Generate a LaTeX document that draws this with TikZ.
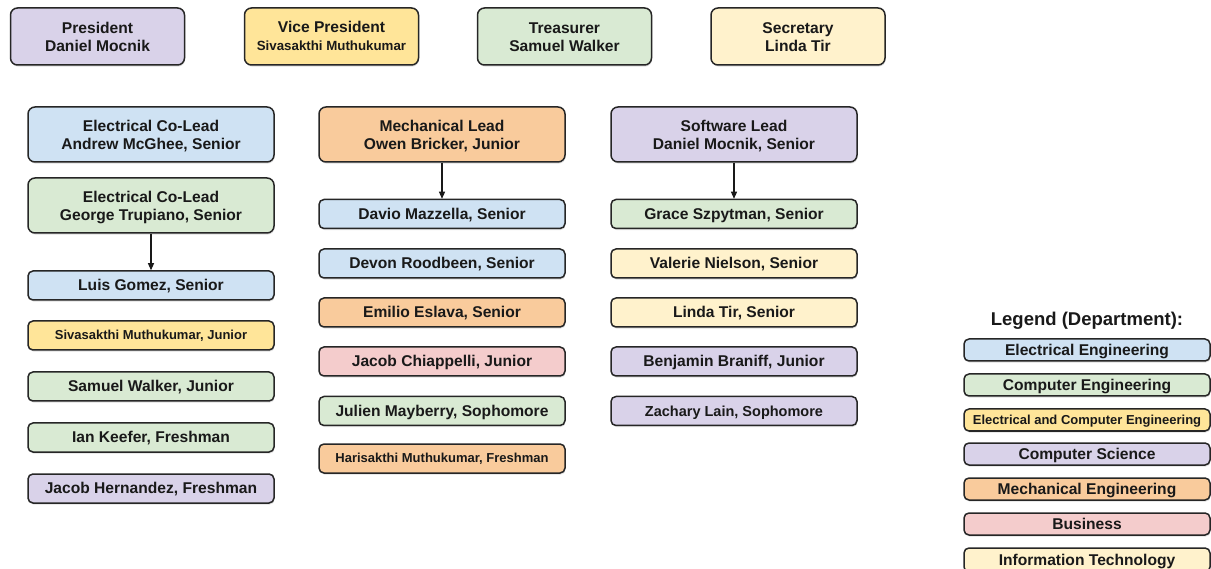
\documentclass[tikz,border=0pt]{standalone}
\usepackage{fontspec}
\setmainfont{Liberation Sans}[BoldFont={Liberation Sans Bold}]
\usepackage{xcolor}
\usetikzlibrary{arrows.meta,shadows}

\definecolor{deptEE}{HTML}{CFE2F3}
\definecolor{deptCE}{HTML}{D9EAD3}
\definecolor{deptECE}{HTML}{FFE599}
\definecolor{deptCS}{HTML}{D9D2E9}
\definecolor{deptME}{HTML}{F9CB9C}
\definecolor{deptBus}{HTML}{F4CCCC}
\definecolor{deptIT}{HTML}{FFF2CC}

\begin{document}
\begin{tikzpicture}[x=1pt, y=-1pt,
  card/.style={draw=black!85, line width=1.5pt, rounded corners=7pt, align=center,
    inner sep=0pt, text=black!90, text height=30.5pt, text depth=1.3pt,
    font=\fontsize{15.6}{18}\selectfont\bfseries,
    drop shadow={opacity=0.25, shadow xshift=0.6pt, shadow yshift=-1.6pt}},
  officer/.style={card, minimum width=174pt, minimum height=57pt},
  lead/.style={card, minimum width=246pt, minimum height=55pt},
  member/.style={card, rounded corners=5pt, text height=12pt, text depth=1.5pt,
    minimum width=246pt, minimum height=29pt},
  legendbox/.style={member, minimum height=22pt},
  small/.style={font=\fontsize{13}{15}\selectfont\bfseries, text height=10pt, text depth=1.2pt},
  link/.style={-{Triangle[length=7pt,width=6pt]}, line width=1.1pt, black!90}]
\useasboundingbox (0,0) rectangle (1211,569);

% officers
\node[officer, fill=deptCS] (pres) at (97.5,36.5) {President\\Daniel Mocnik};
\node[officer, fill=deptECE, text height=29.5pt] (vp) at (331.5,36.5) {Vice President\\{\fontsize{13.3}{15}\selectfont Sivasakthi Muthukumar}};
\node[officer, fill=deptCE] (treas) at (564.5,36.5) {Treasurer\\Samuel Walker};
\node[officer, fill=deptIT] (sec) at (798,36.5) {Secretary\\Linda Tir};

% electrical team
\node[lead, fill=deptEE] (eleadA) at (151,134.5) {Electrical Co-Lead\\Andrew McGhee, Senior};
\node[lead, fill=deptCE] (eleadG) at (151,205.5) {Electrical Co-Lead\\George Trupiano, Senior};
\node[member, fill=deptEE] (luis) at (151,285.5) {Luis Gomez, Senior};
\node[member, small, fill=deptECE] (siva) at (151,335.5) {Sivasakthi Muthukumar, Junior};
\node[member, fill=deptCE] (samuel) at (151,386.5) {Samuel Walker, Junior};
\node[member, fill=deptCE] (ian) at (151,437.5) {Ian Keefer, Freshman};
\node[member, fill=deptCS] (jacobh) at (151,488.5) {Jacob Hernandez, Freshman};

% mechanical team
\node[lead, fill=deptME] (mlead) at (442,134.5) {Mechanical Lead\\Owen Bricker, Junior};
\node[member, fill=deptEE] (davio) at (442,214) {Davio Mazzella, Senior};
\node[member, fill=deptEE] (devon) at (442,263.5) {Devon Roodbeen, Senior};
\node[member, fill=deptME] (emilio) at (442,312.5) {Emilio Eslava, Senior};
\node[member, fill=deptBus] (jacobc) at (442,361.5) {Jacob Chiappelli, Junior};
\node[member, fill=deptCE] (julien) at (442,411) {Julien Mayberry, Sophomore};
\node[member, small, fill=deptME] (hari) at (442,458.5) {Harisakthi Muthukumar, Freshman};

% software team
\node[lead, fill=deptCS] (slead) at (734,134.5) {Software Lead\\Daniel Mocnik, Senior};
\node[member, fill=deptCE] (grace) at (734,214) {Grace Szpytman, Senior};
\node[member, fill=deptIT] (valerie) at (734,263.5) {Valerie Nielson, Senior};
\node[member, fill=deptIT] (linda) at (734,312.5) {Linda Tir, Senior};
\node[member, fill=deptCS] (benjamin) at (734,361.5) {Benjamin Braniff, Junior};
\node[member, font=\fontsize{14.5}{17}\selectfont\bfseries, fill=deptCS] (zachary) at (734,411) {Zachary Lain, Sophomore};

% arrows
\draw[link] (eleadG) -- (luis);
\draw[link] (mlead) -- (davio);
\draw[link] (slead) -- (grace);

% legend
\node[font=\fontsize{18.5}{21}\selectfont\bfseries, text=black!90] (legtitle) at (1087,321) {Legend (Department):};
\node[legendbox, fill=deptEE] (legEE) at (1087,350) {Electrical Engineering};
\node[legendbox, fill=deptCE] (legCE) at (1087,385) {Computer Engineering};
\node[legendbox, small, fill=deptECE] (legECE) at (1087,420) {Electrical and Computer Engineering};
\node[legendbox, fill=deptCS] (legCS) at (1087,454) {Computer Science};
\node[legendbox, fill=deptME] (legME) at (1087,489) {Mechanical Engineering};
\node[legendbox, fill=deptBus] (legBus) at (1087,524) {Business};
\node[legendbox, fill=deptIT, minimum height=24pt] (legIT) at (1087,560) {Information Technology};
\end{tikzpicture}
\end{document}
